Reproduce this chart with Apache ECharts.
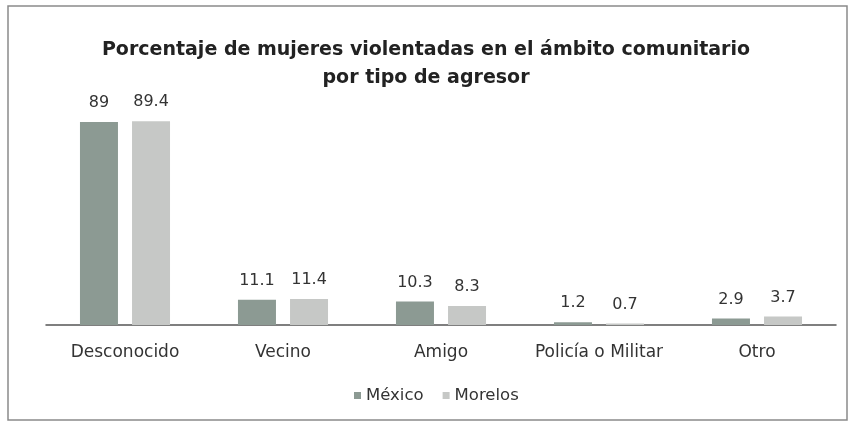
<!DOCTYPE html>
<html lang="es">
<head>
  <meta charset="UTF-8">
  <title>Porcentaje de mujeres violentadas</title>
  <script src="https://cdn.jsdelivr.net/npm/echarts@6/dist/echarts.min.js"></script>
  <style>
    html, body { margin: 0; padding: 0; background: #fff; }
    #chart { width: 852px; height: 426px; }
  </style>
</head>
<body>
  <div id="chart"></div>
  <script>
    // datos
    var categorias = ['Desconocido', 'Vecino', 'Amigo', 'Policía o Militar', 'Otro']
    var mexico = [89, 11.1, 10.3, 1.2, 2.9]
    var morelos = [89.4, 11.4, 8.3, 0.7, 3.7]

    var fuente = 'DejaVu Sans, Arial, sans-serif'
    var chart = echarts.init(document.getElementById('chart'))

    var labelStyle = {
      show: true,
      position: 'top',
      distance: 11,
      color: '#333',
      fontSize: 16,
      fontFamily: fuente
    }

    var option = {
      animation: false,
      backgroundColor: '#fff',
      title: {
        text: 'Porcentaje de mujeres violentadas en el ámbito comunitario\npor tipo de agresor',
        left: 'center',
        top: 31,
        textStyle: {
          fontSize: 19,
          fontWeight: 'bold',
          color: '#222',
          lineHeight: 28,
          fontFamily: fuente
        }
      },
      // marco del gráfico
      graphic: [
        {
          type: 'rect',
          shape: { x: 8, y: 6, width: 839, height: 414 },
          style: { fill: 'none', stroke: '#8a8a8a', lineWidth: 1.5 },
          silent: true
        }
      ],
      legend: {
        data: ['México', 'Morelos'],
        bottom: 17,
        left: 349,
        itemWidth: 7,
        itemHeight: 7,
        itemGap: 19,
        icon: 'rect',
        textStyle: { fontSize: 16.5, color: '#333', fontFamily: fuente }
      },
      grid: { left: 46, right: 16, top: 97, bottom: 101 },
      xAxis: {
        type: 'category',
        data: categorias,
        axisLine: { lineStyle: { color: '#555', width: 1.5 } },
        axisTick: { show: false },
        axisLabel: {
          interval: 0,
          margin: 19,
          fontSize: 17,
          color: '#333',
          fontFamily: fuente
        }
      },
      yAxis: {
        type: 'value',
        min: 0,
        max: 100,
        show: false
      },
      series: [
        {
          name: 'México',
          type: 'bar',
          data: mexico,
          barWidth: 38,
          barGap: '37%',
          itemStyle: { color: '#8c9a93' },
          label: labelStyle
        },
        {
          name: 'Morelos',
          type: 'bar',
          data: morelos,
          barWidth: 38,
          itemStyle: { color: '#c6c8c6' },
          label: labelStyle
        }
      ]
    }

    chart.setOption(option)
    window.onresize = chart.resize
  </script>
</body>
</html>
